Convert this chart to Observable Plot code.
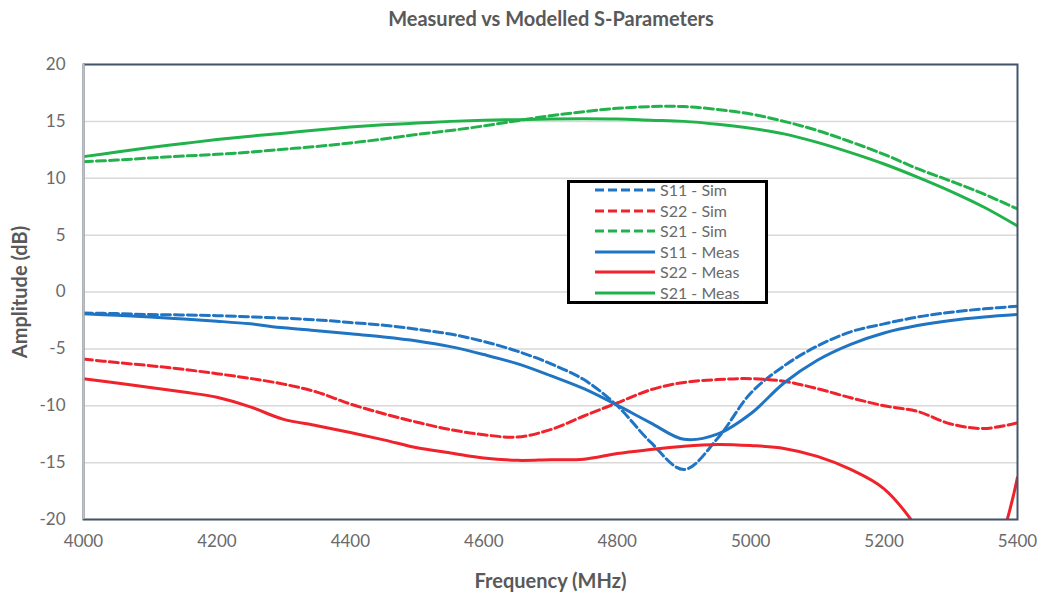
<!DOCTYPE html>
<html>
<head>
<meta charset="utf-8">
<script src="https://cdn.jsdelivr.net/npm/d3@7"></script>
<script src="https://cdn.jsdelivr.net/npm/@observablehq/plot@0.6"></script>
<style>
  body { margin: 0; background: #fff; font-family: Lato, "Noto Sans", sans-serif; }
  #wrap { position: relative; width: 1040px; height: 596px; overflow: hidden; }
  #title { height: 40px; line-height: 36px; box-sizing: border-box; padding-left: 62px; width: 1040px;
           text-align: center; font-weight: bold; font-size: 20px; color: #595959; }
  #legend { position: absolute; left: 567px; top: 180px; width: 195px; height: 118px;
            border: 3px solid #000; background: #fff; }
  .row { position: absolute; left: 0; height: 20px; line-height: 20px; font-size: 16px; color: #6a6a6a; white-space: nowrap; }
  .row svg { position: absolute; left: 25px; top: 7px; }
  .row span { position: absolute; left: 90px; }
</style>
</head>
<body>
<div id="wrap">
  <div id="title">Measured vs Modelled S-Parameters</div>
  <div id="chart"></div>
  <div id="legend"></div>
</div>
<script>
// Frequency grid (MHz)
const freq = [4000,4050,4100,4150,4200,4250,4300,4350,4400,4450,4500,4550,4600,4650,4700,
              4750,4800,4850,4900,4950,5000,5050,5100,5150,5200,5250,5300,5350,5400];

// Series values (dB)
const s11Sim  = [-1.85,-1.9,-1.98,-2.02,-2.08,-2.18,-2.3,-2.45,-2.68,-2.92,-3.28,-3.7,-4.35,-5.2,-6.3,
                 -7.7,-10.0,-13.2,-15.6,-12.9,-8.9,-6.5,-4.75,-3.5,-2.8,-2.2,-1.78,-1.48,-1.25];
const s22Sim  = [-5.9,-6.2,-6.48,-6.8,-7.18,-7.6,-8.1,-8.8,-9.85,-10.7,-11.45,-12.1,-12.55,-12.75,-12.1,
                 -10.9,-9.75,-8.6,-7.95,-7.7,-7.62,-7.85,-8.5,-9.3,-10.0,-10.5,-11.6,-12.0,-11.5];
const s21Sim  = [11.45,11.6,11.78,11.95,12.1,12.3,12.55,12.8,13.1,13.45,13.85,14.2,14.6,15.05,15.5,
                 15.85,16.15,16.3,16.3,16.05,15.65,15.0,14.2,13.2,12.1,10.85,9.75,8.6,7.3];
const s11Meas = [-1.92,-2.05,-2.2,-2.38,-2.57,-2.8,-3.15,-3.4,-3.68,-3.95,-4.3,-4.8,-5.5,-6.3,-7.35,
                 -8.5,-9.95,-11.5,-12.95,-12.5,-10.7,-8.0,-6.0,-4.6,-3.6,-2.95,-2.5,-2.2,-1.98];
const s22Meas = [-7.63,-8.0,-8.4,-8.8,-9.25,-10.1,-11.2,-11.75,-12.35,-13.0,-13.7,-14.15,-14.6,-14.8,-14.75,
                 -14.7,-14.2,-13.85,-13.55,-13.4,-13.5,-13.75,-14.45,-15.6,-17.3,-20.8,-26.0,-25.0,-16.3];
const s21Meas = [11.9,12.3,12.7,13.05,13.4,13.7,13.95,14.25,14.5,14.7,14.85,15.0,15.1,15.15,15.2,
                 15.22,15.2,15.1,15.0,14.75,14.4,13.9,13.15,12.25,11.25,10.1,8.85,7.45,5.8];

const xTicks = [4000,4200,4400,4600,4800,5000,5200,5400];
const yTicks = [-20,-15,-10,-5,0,5,10,15,20];

const seriesNames = ["S11 - Sim","S22 - Sim","S21 - Sim","S11 - Meas","S22 - Meas","S21 - Meas"];
const seriesValues = [s11Sim, s22Sim, s21Sim, s11Meas, s22Meas, s21Meas];
const seriesColors = ["#1f74c4","#f0222b","#22b24c","#1f74c4","#f0222b","#22b24c"];
const seriesDashed = [true,true,true,false,false,false];
const DASH = "9,4";

const font = 'Lato, "Noto Sans", sans-serif';

const lineMarks = seriesNames.map((name, k) => {
  const rows = freq.map((f, i) => ({f, v: seriesValues[k][i], name}));
  return Plot.line(rows, {
    x: "f", y: "v", stroke: seriesColors[k], strokeWidth: 3,
    strokeDasharray: seriesDashed[k] ? DASH : null,
    curve: "catmull-rom", clip: true
  });
});

const chart = Plot.plot({
  width: 1040, height: 556,
  marginLeft: 83, marginRight: 23, marginTop: 24, marginBottom: 77,
  style: {fontFamily: font, fontSize: "16px", color: "#6a6a6a", background: "#fff"},
  x: {domain: [4000, 5400], label: null},
  y: {domain: [-20, 20], label: null},
  marks: [
    Plot.gridY(yTicks, {stroke: "#d9d9d9", strokeOpacity: 1, strokeWidth: 1.5}),
    Plot.axisX(xTicks, {tickSize: 0, tickPadding: 15, tickFormat: d => String(d), label: null, fontSize: 17}),
    Plot.axisY(yTicks, {tickSize: 0, tickPadding: 18, tickFormat: d => String(d), label: null, fontSize: 17}),
    ...lineMarks,
    Plot.frame({stroke: "#44546a", strokeWidth: 2}),
    Plot.ruleX([4000], {stroke: "#bfbfbf", strokeWidth: 2}),
    Plot.text(["Frequency (MHz)"], {frameAnchor: "bottom", dy: 62, lineAnchor: "middle", textAnchor: "middle",
      fontWeight: "bold", fontSize: 20, fill: "#595959"}),
    Plot.text(["Amplitude (dB)"], {frameAnchor: "left", dx: -63, rotate: -90, lineAnchor: "middle", textAnchor: "middle",
      fontWeight: "bold", fontSize: 20, fill: "#595959"})
  ]
});
document.getElementById("chart").appendChild(chart);

// Legend
const legend = document.getElementById("legend");
seriesNames.forEach((name, k) => {
  const row = document.createElement("div");
  row.className = "row";
  row.style.top = (-3 + k * 20.5) + "px";
  row.style.width = "195px";
  row.innerHTML = `<svg width="60" height="6"><line x1="0" x2="60" y1="3" y2="3" stroke="${seriesColors[k]}" stroke-width="3" ${seriesDashed[k] ? `stroke-dasharray="${DASH}"` : ""}/></svg><span>${name}</span>`;
  legend.appendChild(row);
});
</script>
</body>
</html>
